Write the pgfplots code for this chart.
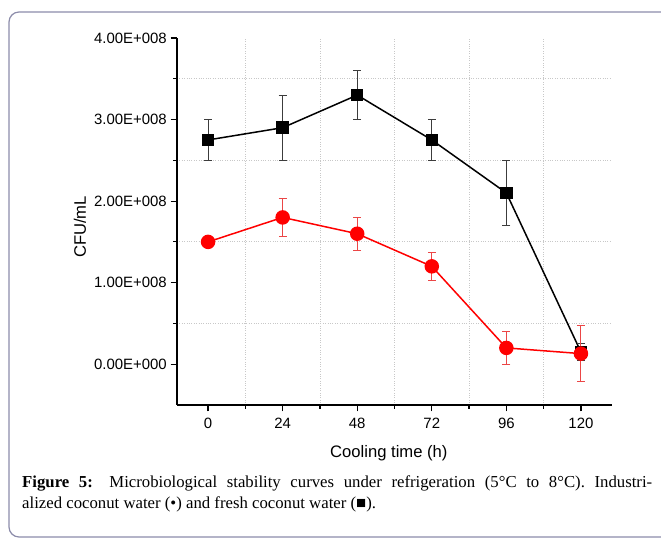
\documentclass[border=0pt]{standalone}
\usepackage{pgfplots}
\pgfplotsset{compat=1.18}
\usepackage{fontspec}
\setmainfont{Liberation Serif}
\newfontfamily\arial{Liberation Sans}
\definecolor{framec}{RGB}{140,140,170}
\definecolor{gridc}{RGB}{200,200,200}
\definecolor{errred}{RGB}{235,70,70}
\definecolor{errblk}{RGB}{60,60,60}
\newcommand\tickfont{\arial\fontsize{15}{16}\selectfont}
\newcommand\labfont{\arial\fontsize{16.7}{18}\selectfont}
\begin{document}
\begin{tikzpicture}
\useasboundingbox (0,0) rectangle (661bp,541bp);
\begin{scope}
\clip (0,0) rectangle (661bp,541bp);
\draw[framec, line width=1.2bp, rounded corners=10bp] (9bp,4bp) rectangle (700bp,529bp);
\end{scope}
\begin{axis}[
  at={(177bp,136bp)}, anchor=south west,
  scale only axis, width=435bp, height=367bp,
  xmin=-10, xmax=130, ymin=-0.5e8, ymax=4e8,
  axis x line*=bottom, axis y line*=left,
  axis line style={line width=1.5bp, black},
  xtick={0,24,48,72,96,120},
  minor xtick={12,36,60,84,108},
  ytick={0,1e8,2e8,3e8,4e8},
  minor ytick={0.5e8,1.5e8,2.5e8,3.5e8},
  yticklabels={0.00E+000,1.00E+008,2.00E+008,3.00E+008,4.00E+008},
  scaled y ticks=false,
  tick align=outside,
  major tick length=6.5bp, minor tick length=4bp,
  tick style={line width=1.2bp, black},
  grid=minor,
  minor grid style={gridc, dotted, line width=0.8bp},
  /pgf/number format/assume math mode=true,
  tick label style={font=\tickfont},
  yticklabel style={inner sep=3.5bp},
  xticklabel style={yshift=-3bp},
  xlabel={Cooling time (h)},
  ylabel={CFU/mL},
  xlabel style={font=\labfont, at={(axis description cs:0.487,0)}, anchor=base, yshift=-53bp},
  ylabel style={font=\labfont, at={(axis description cs:-0.223,0.485)}, anchor=center},
  clip=false,
]
\addplot[black, line width=1.5bp, mark=square*, mark size=5.5bp, mark options={solid, fill=black},
  error bars/.cd, y dir=both, y explicit,
  error bar style={errblk, line width=0.9bp},
  error mark options={rotate=90, mark size=4bp, line width=0.9bp, errblk}]
  table[x=x, y=y, y error=e] {
x y e
0 2.75e8 0.25e8
24 2.9e8 0.4e8
48 3.3e8 0.3e8
72 2.75e8 0.25e8
96 2.1e8 0.4e8
120 0.15e8 0.1e8
};
\addplot[red, line width=1.5bp, mark=*, mark size=6.5bp, mark options={solid, fill=red},
  error bars/.cd, y dir=both, y explicit,
  error bar style={errred, line width=0.9bp},
  error mark options={rotate=90, mark size=4bp, line width=0.9bp, errred}]
  table[x=x, y=y, y error=e] {
x y e
0 1.5e8 0.05e8
24 1.8e8 0.23e8
48 1.6e8 0.2e8
72 1.2e8 0.17e8
96 0.2e8 0.2e8
120 0.13e8 0.34e8
};
\end{axis}
\node[anchor=base west, inner sep=0pt, text width=630bp, align=justify,
  font=\fontsize{16.8}{21}\selectfont] at (22bp,53bp)
  {\textbf{Figure 5:} Microbiological stability curves under refrigeration (5°C to 8°C). Industri-\linebreak alized coconut water (•) and fresh coconut water (■).};
\end{tikzpicture}
\end{document}
